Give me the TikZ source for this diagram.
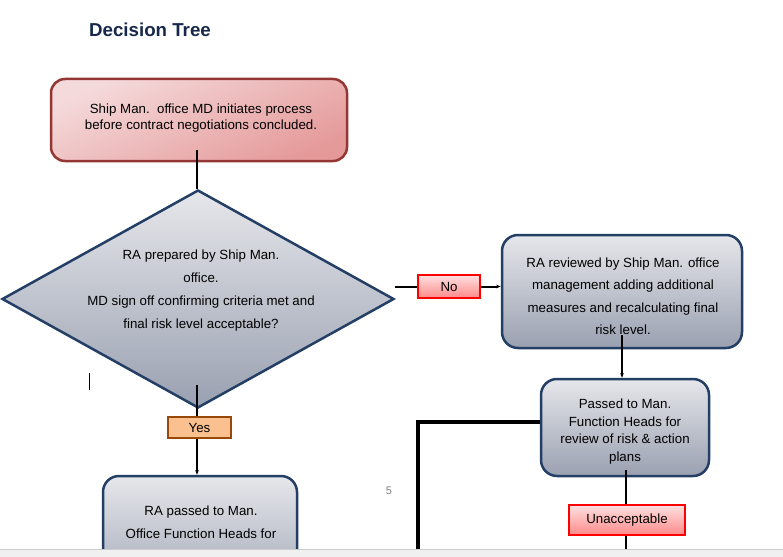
\documentclass[tikz,border=0pt]{standalone}
\usepackage{fontspec}
\setmainfont{Liberation Sans}
\usetikzlibrary{shapes.geometric,arrows.meta}
\definecolor{titleblue}{HTML}{17284A}
\definecolor{pinkA}{HTML}{F5DADB}
\definecolor{pinkB}{HTML}{E59A9A}
\definecolor{pinkBorder}{HTML}{943634}
\definecolor{grayA}{HTML}{E6E7EB}
\definecolor{grayB}{HTML}{99A0B0}
\definecolor{navyBorder}{HTML}{243F66}
\definecolor{redA}{HTML}{FDE0E0}
\definecolor{redB}{HTML}{FF8A8A}
\definecolor{yesFill}{HTML}{FAC090}
\definecolor{yesBorder}{HTML}{984807}
\tikzset{
  body/.style={font=\fontsize{13.3}{16}\selectfont, align=center, text=black},
  pinkbox/.style={draw=pinkBorder, line width=2.5pt, rounded corners=14pt,
     top color=pinkA, bottom color=pinkB, shading angle=25, inner sep=0pt},
  graybox/.style={draw=navyBorder, line width=2.5pt, rounded corners=16pt,
     top color=grayA, bottom color=grayB, inner sep=0pt},
  redtag/.style={draw=red, line width=2pt, top color=redA, bottom color=redB,
     inner sep=0pt, font=\fontsize{13.3}{16}\selectfont},
  yestag/.style={draw=yesBorder, line width=2pt, fill=yesFill,
     inner sep=0pt, font=\fontsize{13.3}{16}\selectfont},
  conn/.style={draw=black, line width=2pt},
  arr/.style={conn, -{Stealth[length=4.5pt,width=3.5pt]}},
}
\begin{document}
\begin{tikzpicture}[x=1pt,y=-1pt]
\useasboundingbox (0,0) rectangle (783,556);
\fill[white] (0,0) rectangle (783,556);

% title
\node[font=\bfseries\fontsize{18.7}{20}\selectfont, text=titleblue] (title) at (150,30) {Decision Tree};

% top box
\node[pinkbox, minimum width=296pt, minimum height=82pt] (start) at (199,120) {};
\node[body, font=\fontsize{13.3}{16}\selectfont] (starttxt) at (201,118)
  {Ship Man.\ \ office MD initiates process\\before contract negotiations concluded.};

% diamond
\node[diamond, draw=navyBorder, line width=2.5pt, top color=grayA, bottom color=grayB,
      minimum width=392pt, minimum height=218pt, inner sep=0pt] (dec) at (198,299) {};
\node[body, font=\fontsize{13.3}{23}\selectfont] (dectxt) at (201,291)
  {RA prepared by Ship Man.\\office.\\MD sign off confirming criteria met and\\final risk level acceptable?};

% connector start -> decision
\coordinate (s1) at (197,150);
\draw[conn] (s1) -- (s1 |- dec.north);

% yes tag
\node[yestag, minimum width=63pt, minimum height=21pt] (yes) at (199.5,427.5) {Yes};
\coordinate (d1) at (197,385);
\draw[conn] (d1) -- (yes.north -| d1);

% bottom box
\node[graybox, minimum width=194pt, minimum height=130pt] (passed) at (200,541) {};
\node[body, font=\fontsize{13.3}{23}\selectfont] (passedtxt) at (201,522.5)
  {RA passed to Man.\\Office Function Heads for};
\draw[arr] (yes.south -| d1) -- (passed.north -| d1);

% No tag
\node[redtag, minimum width=62pt, minimum height=23pt] (no) at (449,286.5) {No};
\coordinate (d2) at (395,286.5);
\draw[conn] (d2) -- (no.west);

% right box 1
\node[graybox, minimum width=240pt, minimum height=113pt] (review) at (622,291.5) {};
\node[body, font=\fontsize{13.3}{22.5}\selectfont] (reviewtxt) at (623,296)
  {RA reviewed by Ship Man. office\\management adding additional\\measures and recalculating final\\risk level.};
\draw[arr] (no.east) -- (review.west |- no.east);

% right box 2
\node[graybox, minimum width=168pt, minimum height=97pt] (heads) at (625,427.5) {};
\node[body, font=\fontsize{13.3}{17.7}\selectfont] (headstxt) at (625,431.5)
  {Passed to Man.\\Function Heads for\\review of risk \& action\\plans};
\coordinate (r1) at (622,335);
\draw[arr] (r1) -- (r1 |- heads.north);

% unacceptable tag
\node[redtag, minimum width=116pt, minimum height=30pt] (unacc) at (627,520) {Unacceptable};
\coordinate (h1) at (626,470);
\draw[conn] (h1) -- (h1 |- unacc.north);
\coordinate (u1) at (626,560);
\draw[conn] (h1 |- unacc.south) -- (u1);

% thick loop line
\coordinate (l1) at (418,560);
\draw[black, line width=4pt, line join=miter] (heads.west |- 0,422) -- (418,422) -- (l1);

% page number
\node[font=\fontsize{11}{13}\selectfont, text=black!50] (pnum) at (389,491) {5};

% text cursor
\draw[black, line width=1pt] (89,373) -- (89,390);

% bottom strip
\fill[black!6] (0,549.5) rectangle (783,557);
\draw[black!20, line width=1pt] (0,549.5) -- (783,549.5);
\end{tikzpicture}
\end{document}
